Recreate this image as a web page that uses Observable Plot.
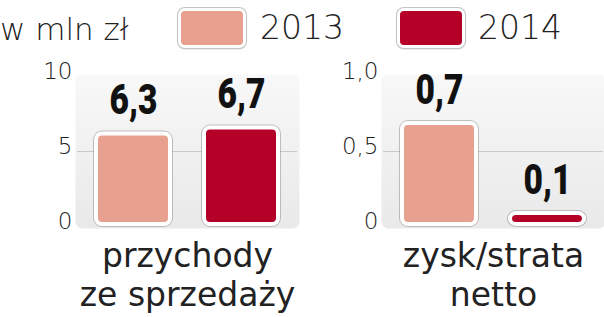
<!DOCTYPE html>
<html><head><meta charset="utf-8">
<script src="https://cdn.jsdelivr.net/npm/d3@7"></script>
<script src="https://cdn.jsdelivr.net/npm/@observablehq/plot@0.6"></script>
<style>
body{margin:0;background:#fff;width:604px;height:317px;overflow:hidden;font-family:"DejaVu Sans",sans-serif;color:#222;}
#head{position:relative;height:52px;}
#head .t{position:absolute;line-height:1;font-weight:200;white-space:nowrap;}
#head .sw{position:absolute;box-sizing:border-box;width:68px;height:40px;border:3px solid #fff;border-radius:7px;box-shadow:0 0 0 1px #c4c4c4,0 1px 2px rgba(0,0,0,.25);}
#charts{display:flex;}
</style></head><body>
<div id="head"></div>
<div id="charts"></div>
<script>
const unitLabel = "w mln zł";
const years = ["2013", "2014"];
const yearColors = ["#E8A08F", "#B50027"];
const panelNames = ["przychody\nze sprzedaży", "zysk/strata\nnetto"];
const revenue = [6.3, 6.7];
const revenueLabels = ["6,3", "6,7"];
const profit = [0.7, 0.1];
const profitLabels = ["0,7", "0,1"];
const revenueTicks = [0, 5, 10];
const revenueTickLabels = ["0", "5", "10"];
const profitTicks = [0, 0.5, 1];
const profitTickLabels = ["0", "0,5", "1,0"];

// header / legend
const head = document.getElementById("head");
const unit = document.createElement("div");
unit.className = "t"; unit.textContent = unitLabel;
Object.assign(unit.style, {left: "0px", top: "14px", fontSize: "31px"});
head.appendChild(unit);
const swLeft = [178, 397], txtLeft = [260, 478];
years.forEach((y, i) => {
  const sw = document.createElement("div");
  sw.className = "sw";
  Object.assign(sw.style, {left: swLeft[i] + "px", top: "8px", background: yearColors[i]});
  head.appendChild(sw);
  const t = document.createElement("div");
  t.className = "t"; t.textContent = y;
  Object.assign(t.style, {left: txtLeft[i] + "px", top: "11px", fontSize: "33px"});
  head.appendChild(t);
});

function panel(name, values, labels, ticks, tickLabels, ml, mr, gid) {
  const data = years.map((y, i) => ({year: y, value: values[i], label: labels[i]}));
  const top = ticks[ticks.length - 1];
  const svg = Plot.plot({
    width: 302, height: 265,
    marginLeft: ml, marginRight: mr, marginTop: 24, marginBottom: 91,
    x: {domain: years, paddingInner: 0.275, paddingOuter: 0.147, axis: null},
    y: {domain: [0, top]},
    color: {domain: years, range: yearColors},
    style: {fontFamily: "DejaVu Sans, sans-serif", background: "transparent", overflow: "visible", color: "#222"},
    marks: [
      Plot.frame({fill: `url(#${gid})`, rx: 7, inset: -2}),
      Plot.ruleY([ticks[1]], {stroke: "#c9c9c9", strokeWidth: 1}),
      Plot.axisY(ticks, {tickSize: 0, tickPadding: 5, dy: -5, fill: "#222", fontSize: 23, fontWeight: 200,
        tickFormat: d => tickLabels[ticks.indexOf(d)], label: null}),
      Plot.barY(data, {x: "year", y: "value", fill: "year", stroke: "#8a8a8a", strokeOpacity: 0.5, strokeWidth: 6, rx: 6, inset: 2}),
      Plot.barY(data, {x: "year", y: "value", fill: "year", stroke: "#fff", strokeWidth: 4, rx: 6, inset: 2}),
      Plot.text(data, {x: "year", y: "value", text: "label", lineAnchor: "bottom", dy: -18,
        fill: "#111", fontSize: 43, fontWeight: 900, fontFamily: "Roboto, sans-serif"}),
      Plot.text([name], {frameAnchor: "bottom", lineAnchor: "bottom", dy: 79, lineHeight: 1.16,
        fontSize: 33, fill: "#222"})
    ]
  });
  d3.select(svg).insert("defs", ":first-child").html(
    `<linearGradient id="${gid}" x1="0" y1="0" x2="0" y2="1">
       <stop offset="0" stop-color="#f8f8f8"/><stop offset="1" stop-color="#e9e9e9"/>
     </linearGradient>`);
  return svg;
}

const charts = document.getElementById("charts");
const svgs = [
  panel(panelNames[0], revenue, revenueLabels, revenueTicks, revenueTickLabels, 77, 5, "bgA"),
  panel(panelNames[1], profit, profitLabels, profitTicks, profitTickLabels, 81, 1, "bgB")
];
svgs.forEach(s => charts.appendChild(s));
// condense the bold value labels horizontally
const valueTexts = new Set([...revenueLabels, ...profitLabels]);
svgs.forEach(s => {
  s.querySelectorAll("text").forEach(el => {
    if (!valueTexts.has(el.textContent)) return;
    const b = el.getBBox();
    const cx = b.x + b.width / 2;
    const prev = el.getAttribute("transform") || "";
    el.setAttribute("transform", `${prev} translate(${cx},0) scale(0.78,1) translate(${-cx},0)`);
  });
});
</script>
</body></html>
